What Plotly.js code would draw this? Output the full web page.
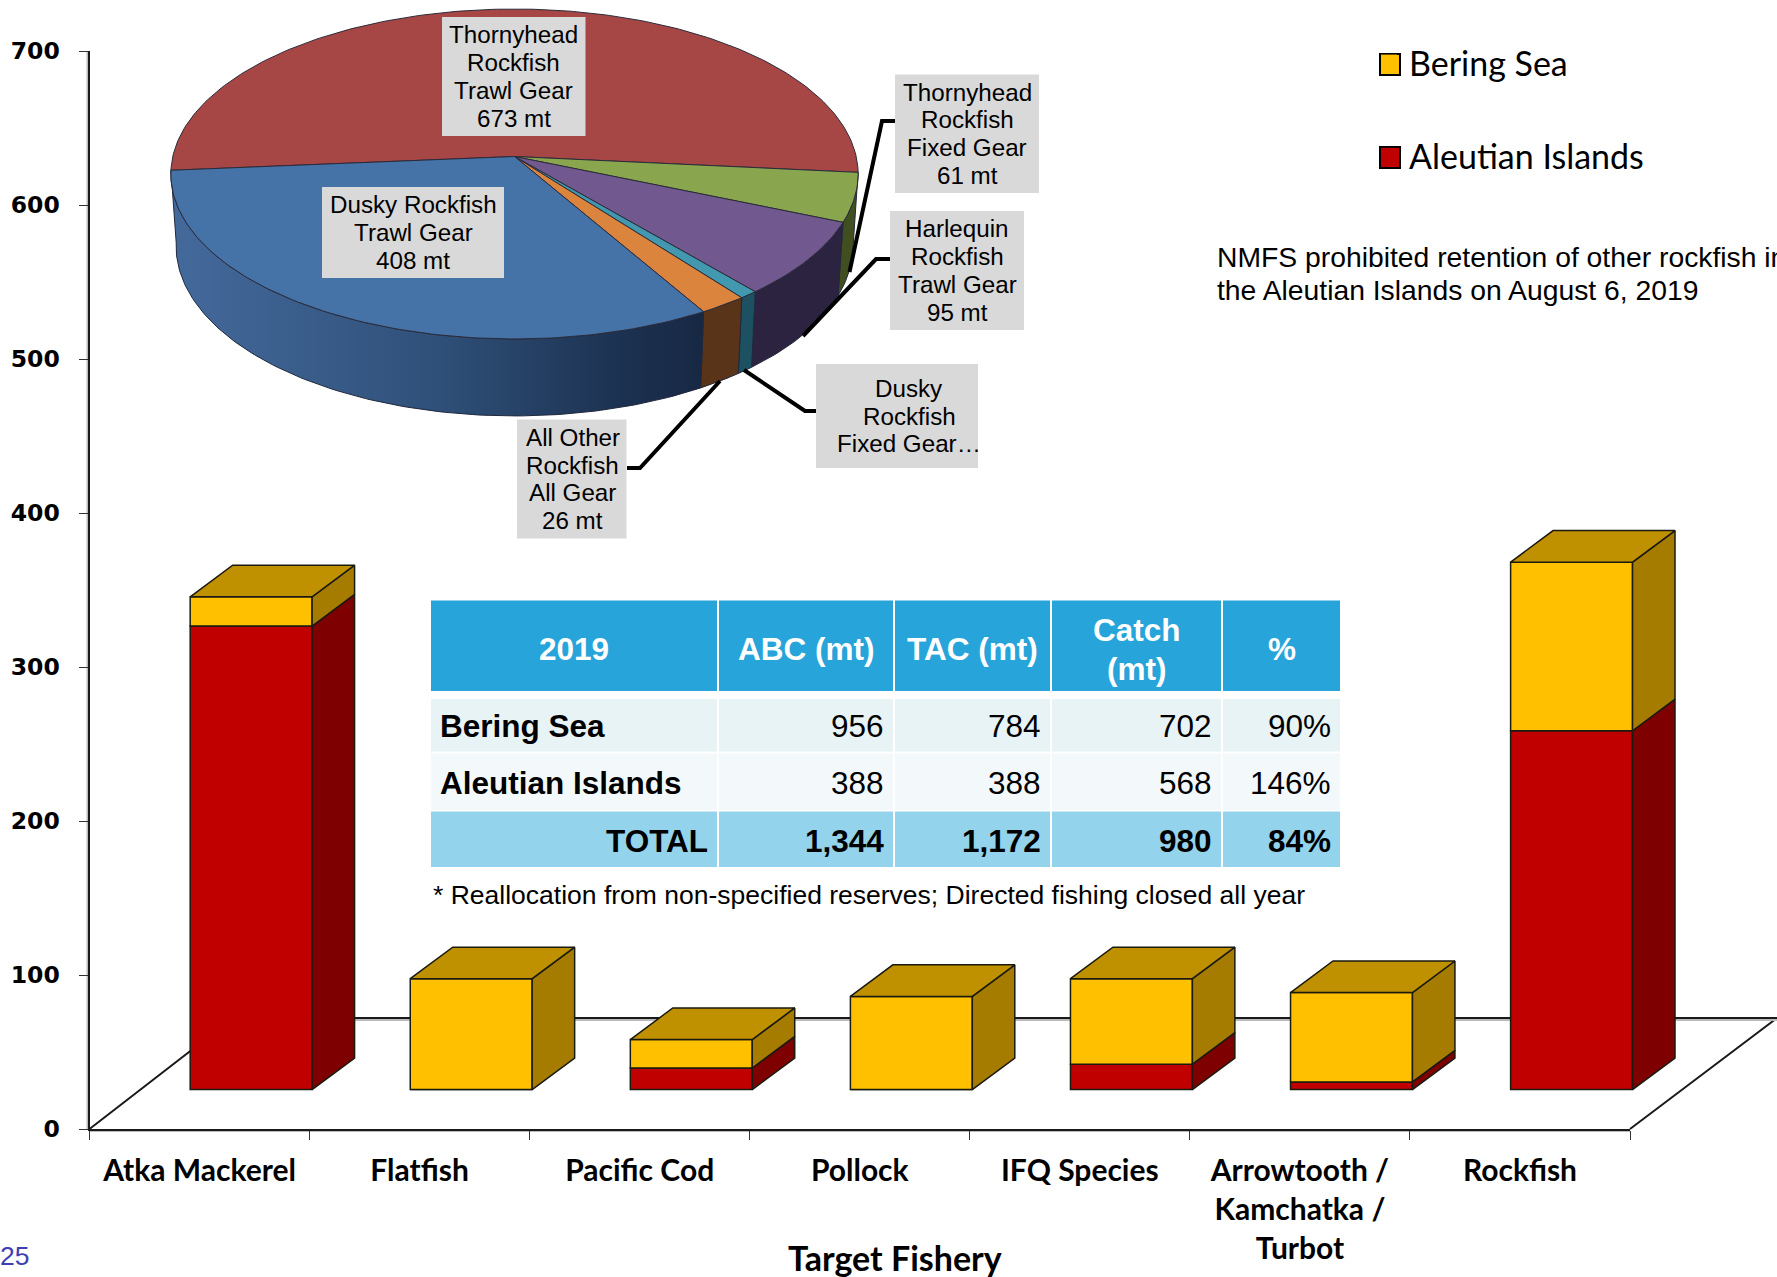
<!DOCTYPE html>
<html>
<head>
<meta charset="utf-8">
<script src="https://cdn.plot.ly/plotly-3.0.1.min.js"></script>
<style>html,body{margin:0;padding:0;background:#fff;overflow:hidden}</style>
</head>
<body>
<div id="chart" style="width:1777px;height:1277px"></div>
<script>
// ---- Data ----
const categories = ['Atka Mackerel','Flatfish','Pacific Cod','Pollock','IFQ Species','Arrowtooth /<br>Kamchatka /<br>Turbot','Rockfish'];
const aleutianIslands = [301, 0, 14, 0, 16.5, 5, 233];
const beringSea = [19, 72, 18.5, 60.5, 55.5, 58, 109.5];
const sliceLabels = ['Thornyhead<br>Rockfish<br>Trawl Gear<br>673 mt','Thornyhead<br>Rockfish<br>Fixed Gear<br>61 mt','Harlequin<br>Rockfish<br>Trawl Gear<br>95 mt','Dusky<br>Rockfish<br>Fixed Gear…','All Other<br>Rockfish<br>All Gear<br>26 mt','Dusky Rockfish<br>Trawl Gear<br>408 mt'];
const sliceValues = [673, 61, 95, 10, 26, 408];
const sliceColors = ['#A64745','#89A54E','#71588F','#4198AF','#DB843D','#4572A7'];
const wallColors = ['#6d2c2b','#414f20','#2c2340','#1d5060','#5a3418',null];
const tableHeader = ['2019','ABC (mt)','TAC (mt)','Catch<br>(mt)','%'];
const tableRows = ['Bering Sea','Aleutian Islands','TOTAL'];
const tableABC = ['956','388','1,344'];
const tableTAC = ['784','388','1,172'];
const tableCatch = ['702','568','980'];
const tablePct = ['90%','146%','84%'];

// ---- Geometry of the drawing ----
const W = 1777, H = 1277;
const AX = {l:89.5, r:1630, t:51, b:1129};
const UNIT = (AX.r - AX.l) / 7;
const FLOOR = 25.6, DEPTH_X = 0.193, DEPTH_Y = 20.5, BAR_W = 0.554, BAR_OFF = -0.0425;
const DARK = '#1a1a10';
const TOP = {cx:514.5, y0:156.5, A:163.1, B:341.7, k:0.106};
const BOT = {cx:514.5, y0:228, A:168, B:336.5, k:0.106};
const START_DEG = 184.8;
const ARIAL = 'Liberation Sans, Arial, sans-serif';
const LABEL = 'Lato, Open Sans, sans-serif';

const px = v => v / W, py = v => 1 - v / H;
function project(g, deg){
  const a = deg * Math.PI / 180, u = Math.cos(a), v = Math.sin(a), d = 1 + g.k * v;
  return [g.cx + g.B * u / d, g.y0 - g.A * v / d];
}
function poly(xs, ys, color, lw, fill, extra){
  return Object.assign({type:'scatter', mode:'lines', x:xs, y:ys, xaxis:'x2', yaxis:'y2',
    fill:'toself', fillcolor:fill, line:{color:color, width:lw}, hoverinfo:'skip', showlegend:false}, extra||{});
}

// ---- Bars (on a hidden category axis that runs on past the visible axis end) ----
const xFront = categories.map((c,i) => i + BAR_OFF);
const base = categories.map(() => FLOOR);
const midBase = aleutianIslands.map(v => FLOOR + v);
const axisHolder = {type:'scatter', mode:'markers', x:categories, y:categories.map(() => null), xaxis:'x', yaxis:'y', showlegend:false, hoverinfo:'skip'};
const barTraces = [
  {type:'bar', x:categories, y:aleutianIslands, base:base, width:BAR_W, offset:BAR_OFF, xaxis:'x3', yaxis:'y3', name:'Aleutian Islands', showlegend:false,
   marker:{color:'#C00000', line:{color:DARK, width:1.5}}, hoverinfo:'skip'},
  {type:'bar', x:categories, y:beringSea, base:midBase, width:BAR_W, offset:BAR_OFF, xaxis:'x3', yaxis:'y3', name:'Bering Sea', showlegend:false,
   marker:{color:'#FFC000', line:{color:DARK, width:1.5}}, hoverinfo:'skip'}
];
function sideFace(i, v0, v1, out){
  const xr = xFront[i] + BAR_W;
  out.x.push(xr, xr + DEPTH_X, xr + DEPTH_X, xr, xr, null);
  out.y.push(v0, v0 + DEPTH_Y, v1 + DEPTH_Y, v1, v0, null);
}
const redSide = {x:[],y:[]}, yellowSide = {x:[],y:[]}, topFace = {x:[],y:[]};
categories.forEach((c,i) => {
  const m = midBase[i], t = m + beringSea[i], xl = xFront[i], xr = xl + BAR_W;
  if (aleutianIslands[i] > 0) sideFace(i, FLOOR, m, redSide);
  sideFace(i, m, t, yellowSide);
  topFace.x.push(xl, xr, xr + DEPTH_X, xl + DEPTH_X, xl, null);
  topFace.y.push(t, t, t + DEPTH_Y, t + DEPTH_Y, t, null);
});
const faceTrace = (f, col) => ({type:'scatter', mode:'lines', x:f.x, y:f.y, xaxis:'x4', yaxis:'y3', fill:'toself', fillcolor:col,
  line:{color:DARK, width:1.5}, hoverinfo:'skip', showlegend:false});
const faceTraces = [faceTrace(redSide,'#7F0000'), faceTrace(yellowSide,'#A67C00'), faceTrace(topFace,'#BF9000')];

// ---- Legend entries ----
const legendColors = ['#FFC000','#C00000'];
const legendTraces = ['Bering Sea','Aleutian Islands'].map((n,i) => ({type:'scatter', mode:'markers', x:[null], y:[null], xaxis:'x4', yaxis:'y3', name:n, legendgroup:n,
  marker:{symbol:'square', size:16, color:legendColors[i], line:{color:legendColors[i], width:0}}, hoverinfo:'skip'}));

// ---- Pie, tilted, from slice values ----
const total = sliceValues.reduce((a,b) => a + b, 0);
let ang = START_DEG;
const sliceAngles = sliceValues.map(v => { const a0 = ang, a1 = ang - v / total * 360; ang = a1; return [a0, a1]; });
function arc(g, a0, a1){
  const n = Math.max(2, Math.ceil(Math.abs(a0 - a1))), pts = [];
  for (let j = 0; j <= n; j++) pts.push(project(g, a0 + (a1 - a0) * j / n));
  return pts;
}
const wallTraces = [], topTraces = [];
sliceAngles.forEach((s,i) => {
  if (i > 0) {
    const hi = s[0], lo = s[1];
    const a = arc(TOP, hi, lo), b = arc(BOT, lo, hi), pts = a.concat(b);
    pts.push(pts[0]);
    const extra = wallColors[i] ? {} : {fillgradient:{type:'horizontal', colorscale:[[0,'#446a9c'],[0.5,'#2f5079'],[0.85,'#1c3150'],[1,'#172844']]}};
    wallTraces.push(poly(pts.map(p=>p[0]), pts.map(p=>p[1]), '#20283c', 1, wallColors[i] || '#2f5079', extra));
  }
  const a = arc(TOP, s[0], s[1]);
  const pts = [[TOP.cx, TOP.y0]].concat(a, [[TOP.cx, TOP.y0]]);
  topTraces.push(poly(pts.map(p=>p[0]), pts.map(p=>p[1]), '#2b2b3a', 1, sliceColors[i]));
});

// ---- Leader lines ----
const leaders = [
  [[895,121],[882,121],[849.5,272]],
  [[890,259],[876,259],[803,336]],
  [[816,411],[805,411],[744,370]],
  [[627,468],[640,468],[720,381]]
];
const leaderTraces = leaders.map(l => ({type:'scatter', mode:'lines', x:l.map(p=>p[0]), y:l.map(p=>p[1]), xaxis:'x2', yaxis:'y2',
  line:{color:'#000', width:4}, hoverinfo:'skip', showlegend:false}));

// ---- Annotation helpers ----
const textAnn = (x,y,t,size,fam,col,anchor) => ({xref:'x2', yref:'y2', x:x, y:y, text:t, showarrow:false, xanchor:anchor||'left', yanchor:'middle', align:anchor||'left',
  font:{family:fam, size:size, color:col||'#000'}});
const rect = (x0,x1,y0,y1,col,layer) => ({type:'rect', xref:'paper', yref:'paper', layer:layer, x0:px(x0), x1:px(x1), y0:py(y1), y1:py(y0), fillcolor:col, line:{width:0}});

// ---- Slice labels: grey box plus one text per line ----
const boxes = [[442,585.5,17,136,0],[895,1039,74.5,193,0],[890,1024,211,330,0],[816,978,364,468,12],[517,626.5,419.5,538.5,1],[322,504,187,278,0]];
const LINE_GAP = 27.8;
const labelShapes = boxes.map(b => rect(b[0],b[1],b[2],b[3],'#D9D9D9','above'));
const labelAnn = [];
sliceLabels.forEach((t,i) => {
  const lines = t.split('<br>'), b = boxes[i], yc = (b[2]+b[3])/2, xc = (b[0]+b[1])/2 + b[4];
  lines.forEach((ln,j) => labelAnn.push(textAnn(xc, yc + (j-(lines.length-1)/2)*LINE_GAP, ln, 24.2, ARIAL, '#000', 'center')));
});

// ---- Table: cell fills and texts ----
const colX = [[431,717],[719,893],[895,1050],[1052,1221],[1223,1340]];
const rowY = [[699,751.5],[753.5,810],[811.5,867]];
const headY = [600.5,691];
const rowFill = ['#E8F3F5','#F3F9FB','#93D3EC'];
const rowText = [726,783,841];
const columns = [tableRows, tableABC, tableTAC, tableCatch, tablePct];
const tableShapes = [], tableAnn = [];
colX.forEach((c,ci) => {
  tableShapes.push(rect(c[0],c[1],headY[0],headY[1],'#27A4D9','below'));
  const xm = (c[0]+c[1])/2;
  const parts = tableHeader[ci].split('<br>');
  parts.forEach((p,j) => tableAnn.push(textAnn(xm, 649 + (j-(parts.length-1)/2)*39, '<b>'+p+'</b>', 31.5, ARIAL, '#fff', 'center')));
  rowY.forEach((r,ri) => {
    tableShapes.push(rect(c[0],c[1],r[0],r[1],rowFill[ri],'below'));
    const bold = ci === 0 || ri === 2;
    const txt = bold ? '<b>'+columns[ci][ri]+'</b>' : columns[ci][ri];
    if (ci === 0 && ri < 2) tableAnn.push(textAnn(c[0]+7, rowText[ri], txt, 31.5, ARIAL, '#000', 'left'));
    else tableAnn.push(textAnn(c[1]-7, rowText[ri], txt, 31.5, ARIAL, '#000', 'right'));
  });
});

const annotations = labelAnn.concat(tableAnn, [
  textAnn(1215,257,'NMFS prohibited retention of other rockfish in',28.3,ARIAL),
  textAnn(1215,290,'the Aleutian Islands on August 6, 2019',28.3,ARIAL),
  textAnn(431,895,'* Reallocation from non-specified reserves; Directed fishing closed all year',26.5,ARIAL),
  textAnn(895,1257,'<b>Target Fishery</b>',34,LABEL,'#000','center'),
  textAnn(31,1256,'25',26.5,ARIAL,'#3F3FB5','right')
]);

// ---- Floor, axis shading and legend swatches ----
const P = (x,y) => px(x)+','+py(y);
const swatch = (y0,col) => ({type:'rect', xref:'paper', yref:'paper', layer:'above', x0:px(1380), x1:px(1400), y0:py(y0+21), y1:py(y0), fillcolor:col, line:{color:'#000', width:2}});
const shapes = [
  {type:'path', xref:'paper', yref:'paper', layer:'below', path:'M'+P(89.5,1129)+'L'+P(233,1018)+'L'+P(1777,1018)+'L'+P(1630,1129),
    line:{color:'#1a1a1a', width:2}, fillcolor:'#fff'},
  {type:'line', xref:'paper', yref:'paper', layer:'below', x0:px(233), x1:px(1777), y0:py(1020), y1:py(1020), line:{color:'#bbb', width:2}},
  {type:'line', xref:'paper', yref:'paper', layer:'below', x0:px(89), x1:px(1630), y0:py(1131), y1:py(1131), line:{color:'#bbb', width:2}},
  {type:'line', xref:'paper', yref:'paper', layer:'below', x0:px(87.5), x1:px(87.5), y0:py(51), y1:py(1129), line:{color:'#bbb', width:2}},
  swatch(54, legendColors[0]), swatch(147, legendColors[1])
].concat(tableShapes, labelShapes);

const wideRange = [-0.5, -0.5 + (W - AX.l) / UNIT];
const layout = {
  width:W, height:H, margin:{l:0,r:0,t:0,b:0}, autosize:false, paper_bgcolor:'#fff', plot_bgcolor:'rgba(0,0,0,0)',
  barmode:'overlay', shapes:shapes, annotations:annotations,
  xaxis:{domain:[px(AX.l),px(AX.r)], type:'category', categoryorder:'array', categoryarray:categories, range:[-0.5,6.5], tickson:'boundaries',
    ticks:'outside', ticklen:9, tickwidth:1, tickcolor:'#333', showline:true, linecolor:'#1a1a1a', linewidth:2, showgrid:false, zeroline:false,
    tickangle:0, ticklabelstandoff:14, tickfont:{family:LABEL, size:30, color:'#000', weight:700}, anchor:'y', fixedrange:true},
  yaxis:{domain:[py(AX.b),py(AX.t)], range:[0,700], tick0:0, dtick:100, ticks:'outside', ticklen:9, tickwidth:1, tickcolor:'#333',
    showline:true, linecolor:'#1a1a1a', linewidth:2, showgrid:false, zeroline:false, ticklabelstandoff:14,
    tickfont:{family:'DejaVu Sans', size:23.5, color:'#000', weight:700}, anchor:'x', fixedrange:true},
  xaxis2:{domain:[0,1], range:[0,W], visible:false, anchor:'y2', fixedrange:true},
  yaxis2:{domain:[0,1], range:[H,0], visible:false, anchor:'x2', fixedrange:true},
  xaxis3:{domain:[px(AX.l),1], type:'category', categoryorder:'array', categoryarray:categories, range:wideRange, visible:false, anchor:'y3', fixedrange:true},
  yaxis3:{domain:[py(AX.b),py(AX.t)], range:[0,700], visible:false, anchor:'x3', fixedrange:true},
  xaxis4:{domain:[px(AX.l),1], range:wideRange, visible:false, anchor:'y3', fixedrange:true},
  showlegend:true,
  legend:{x:px(1369), y:py(34), xanchor:'left', yanchor:'top', bgcolor:'rgba(0,0,0,0)', tracegroupgap:46, itemclick:false, itemdoubleclick:false,
    font:{family:LABEL, size:34, color:'#000'}}
};

Plotly.newPlot('chart', [axisHolder].concat(barTraces, legendTraces, wallTraces, topTraces, leaderTraces, faceTraces), layout, {displayModeBar:false});
</script>
</body>
</html>
